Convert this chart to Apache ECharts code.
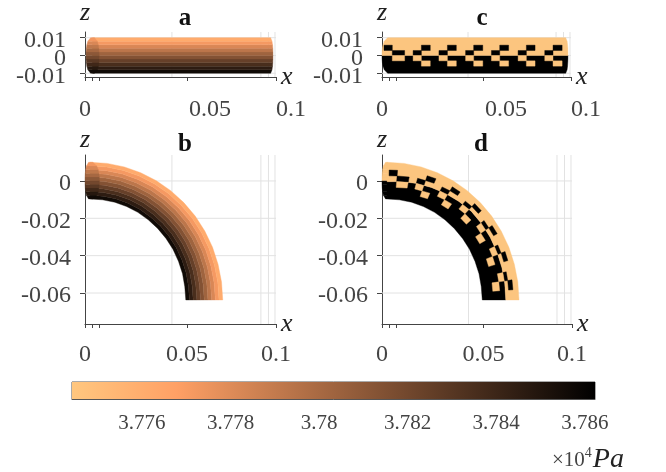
<!DOCTYPE html>
<html><head><meta charset="utf-8">
<style>html,body{margin:0;padding:0;background:#fff}#c{width:666px;height:472px;filter:blur(0.6px)}</style>
<script src="https://cdn.jsdelivr.net/npm/echarts@6/dist/echarts.min.js"></script>
</head><body><div id="c"></div>
<script>
// ---- tick values and labels
const xTicks = [0, 0.0035, 0.007, 0.05, 0.0936];
const xLabelValues = [0, 0.05, 0.0936];
const xLabelTexts = ['0', '0.05', '0.1'];
const xGridLines = [0.0426, 0.0862, 0.0899, 0.0931];
const zTicksStraight = [-0.01, 0, 0.01];
const zLabelsStraight = ['-0.01', '0', '0.01'];
const zTicksBend = [-0.06, -0.04, -0.02, 0];
const zLabelsBend = ['-0.06', '-0.04', '-0.02', '0'];
const cbTicks = [3.776, 3.778, 3.78, 3.782, 3.784, 3.786];
const cbLabels = ['3.776', '3.778', '3.78', '3.782', '3.784', '3.786'];
const cbRange = [3.77442, 3.78623];
const cbStops = [[0, '#ffc77f'], [0.2, '#ffa065'], [1, '#000000']];
// ---- pressure bands across the pipe, bottom/inner to top/outer
const zEdges = [-0.01, -0.008, -0.006, -0.004, -0.002, 0, 0.002, 0.004, 0.006, 0.008, 0.01];
const roundFrac = [0.3, 0.72, 0.87, 0.95, 0.99, 1, 0.99, 0.95, 0.87, 0.72, 0.3];
const bandColors = ['#100a06', '#2d1c12', '#492e1d', '#664029', '#835234', '#9f643f', '#bc764b', '#d98756', '#f59962', '#ffab6d'];
const capColors = ['#100a06', '#26180f', '#402819', '#593824', '#73482e', '#8c5838', '#a66842', '#bf784c', '#d98756', '#f29760'];
const lightColor = '#fcc57f', darkColor = '#000000';
// ---- bend outline
const outerX = [0.0025, 0.0109, 0.0193, 0.0273, 0.0350, 0.0420, 0.0484, 0.0540, 0.0587, 0.0625, 0.0652, 0.0669, 0.0675];
const outerZ = [0.0100, 0.0094, 0.0075, 0.0044, 0.0001, -0.0052, -0.0116, -0.0188, -0.0268, -0.0355, -0.0446, -0.0541, -0.0637];
const innerX = [0.0025, 0.0086, 0.0146, 0.0204, 0.0259, 0.0310, 0.0356, 0.0397, 0.0431, 0.0458, 0.0478, 0.0489, 0.0494];
const innerZ = [-0.0096, -0.0101, -0.0114, -0.0137, -0.0168, -0.0208, -0.0254, -0.0308, -0.0366, -0.0430, -0.0497, -0.0566, -0.0637];
// ---- checker cells
const cellXEdges = [0.001, 0.0051, 0.0112, 0.0154, 0.0195, 0.0239, 0.0282, 0.0324, 0.0368, 0.0414, 0.0454, 0.0499, 0.0542, 0.0583, 0.0627, 0.0674, 0.0715, 0.0758, 0.0806, 0.0847, 0.0892, 0.0938];
const cellRowZ = [0.0058, 0.0028, 0, -0.003, -0.006];
const cellRowFracStart = [0.79, 0.63, 0.47, 0.31, 0.15];
const cellRowFracMid = [0.88, 0.77, 0.66, 0.50, 0.33];
const cellRowFracEnd = [0.85, 0.73, 0.64, 0.49, 0.30];
const cellRows = [
  'k...k..k..k..k..k..k.',
  '.k.k..k..k..k..k..k..',
  '.l.l..l..l..l..l..l..',
  '....l..l..l..l..l..l.'
];
// ---- layout
const serif = 'Liberation Serif';
const labelGrey = '#444', axisGrey = '#444', gridGrey = '#e2e2e2';
const panels = [
  {name:'a', left:85, right:276, top:29, bottom:77, zMin:-0.0121, zMax:0.0132, shift:[0, 46, 30]},
  {name:'b', left:85, right:276, top:155, bottom:324, zMin:-0.0766, zMax:0.0139, shift:[0, 0, 0]},
  {name:'c', left:382, right:571, top:29, bottom:77, zMin:-0.0121, zMax:0.0132, shift:[0, 46, 30]},
  {name:'d', left:382, right:572, top:155, bottom:324, zMin:-0.0766, zMax:0.0139, shift:[0, 0, 0]}
];
const tailEnd = 0.0905, tailRound = 0.0016;

function arcPt(pos, f) {
  const i = Math.min(Math.floor(pos), 11), t = pos - i;
  const ox = outerX[i] + (outerX[i+1]-outerX[i])*t, oz = outerZ[i] + (outerZ[i+1]-outerZ[i])*t;
  const ix = innerX[i] + (innerX[i+1]-innerX[i])*t, iz = innerZ[i] + (innerZ[i+1]-innerZ[i])*t;
  return [ix + (ox-ix)*f, iz + (oz-iz)*f];
}
function straightBand(lo, hi, color, cx, rx) {
  const p = [];
  p.push([cx - rx*roundFrac[lo], zEdges[lo]], [tailEnd + tailRound*roundFrac[lo], zEdges[lo]]);
  for (let i = lo + 1; i <= hi; i++) p.push([tailEnd + tailRound*roundFrac[i], zEdges[i]]);
  for (let i = hi; i >= lo + 1; i--) p.push([cx - rx*roundFrac[i], zEdges[i]]);
  return {pts:p, color};
}
function capBand(i, color, cx, rxL, rxR, zc, zs) {
  const z0 = zc + zEdges[i]*zs, z1 = zc + zEdges[i+1]*zs;
  return {pts:[[cx-rxL*roundFrac[i],z0],[cx+rxR*roundFrac[i],z0],[cx+rxR*roundFrac[i+1],z1],[cx-rxL*roundFrac[i+1],z1]], color};
}
function arcBand(f0, f1, color) {
  const a = [], b = [];
  for (let i = 0; i <= 12; i++) { a.push(arcPt(i, f0(i))); b.push(arcPt(i, f1(i))); }
  return {pts:a.concat(b.reverse()), color};
}
function polysFor(name) {
  const out = [];
  if (name === 'a') {
    bandColors.forEach((c,i)=>out.push(straightBand(i,i+1,c,0.0037,0)));
    capColors.forEach((c,i)=>out.push(capBand(i,c,0.0037,0.0032,0.0032,0,1)));
  } else if (name === 'b') {
    const n = bandColors.length;
    bandColors.forEach((c,i)=>out.push(arcBand(()=>i/n,()=>(i+1)/n,c)));
    capColors.forEach((c,i)=>out.push(capBand(i,c,0.0025,0.0025,0.0045,0.0002,0.98)));
  } else if (name === 'c') {
    out.push(straightBand(0,5,darkColor,0.004,0.004));
    out.push(straightBand(5,10,lightColor,0.004,0.004));
    cellRows.forEach((row,r)=>[...row].forEach((ch,k)=>{
      if (ch==='.') return;
      const x0=cellXEdges[k],x1=cellXEdges[k+1],z0=cellRowZ[r],z1=cellRowZ[r+1];
      out.push({pts:[[x0,z0],[x1,z0],[x1,z1],[x0,z1]],color:ch==='k'?darkColor:lightColor});
    }));
  } else {
    const rowF = (r,pos)=>pos<=6
      ? cellRowFracStart[r]+(cellRowFracMid[r]-cellRowFracStart[r])*pos/6
      : cellRowFracMid[r]+(cellRowFracEnd[r]-cellRowFracMid[r])*(pos-6)/6;
    capColors.forEach((c,i)=>out.push(capBand(i,i<5?darkColor:lightColor,0.0025,0.0025,0.0005,0.0002,0.98)));
    out.push(arcBand(()=>0,i=>rowF(2,i),darkColor));
    out.push(arcBand(i=>rowF(2,i),()=>1,lightColor));
    cellRows.forEach((row,r)=>[...row].forEach((ch,k)=>{
      if (ch==='.') return;
      const p0=cellXEdges[k]/0.0938*12,p1=cellXEdges[k+1]/0.0938*12;
      const pts=[arcPt(p0,rowF(r,p0)),arcPt(p1,rowF(r,p1)),arcPt(p1,rowF(r+1,p1)),arcPt(p0,rowF(r+1,p0))];
      out.push({pts,color:ch==='k'?darkColor:lightColor});
    }));
  }
  return out;
}
const option = {animation:false, backgroundColor:'#fff', grid:[], xAxis:[], yAxis:[], series:[],
  title:[
    {text:'a',left:180,top:1},{text:'c',left:477,top:1},{text:'b',left:180,top:127},{text:'d',left:476,top:127}
  ].map(t=>Object.assign(t,{textAlign:'center',textStyle:{fontFamily:serif,fontWeight:'bold',fontSize:25,color:'#111'}}))
};
option.title.push({left:547,top:441,text:'{t|×10}{s|4}{p|Pa}',textStyle:{fontWeight:'normal',rich:{
  t:{fontFamily:serif,fontWeight:'normal',fontSize:21,color:labelGrey},
  s:{fontFamily:serif,fontWeight:'normal',fontSize:14,color:labelGrey,verticalAlign:'top',padding:[0,1,9,0]},
  p:{fontFamily:serif,fontWeight:'normal',fontStyle:'italic',fontSize:28,color:'#222'}}}});
panels.forEach((P,idx)=>{
  const bend = P.name==='b'||P.name==='d';
  option.grid.push({left:P.left,top:P.top,width:P.right-P.left,height:P.bottom-P.top});
  const rich={}; P.shift.forEach((s,i)=>rich['r'+i]={fontFamily:serif,fontSize:24,color:labelGrey,padding:[0,0,0,s]});
  option.xAxis.push({type:'value',gridIndex:idx,min:0,max:0.0936,
    name:'x',nameLocation:'end',nameGap:5,nameTextStyle:{fontFamily:serif,fontStyle:'italic',fontSize:26,color:'#222',padding:[10,0,0,0]},
    axisLine:{onZero:false,show:true,lineStyle:{color:axisGrey,width:1}},
    axisTick:{show:true,length:4,customValues:xTicks,lineStyle:{color:axisGrey}},
    splitLine:{show:false},
    axisLabel:{customValues:xLabelValues,margin:bend?19:21,hideOverlap:false,showMinLabel:true,showMaxLabel:true,
      formatter:v=>{const i=xLabelValues.indexOf(v);return '{r'+i+'|'+xLabelTexts[i]+'}';},rich}});
  const zt=bend?zTicksBend:zTicksStraight, zl=bend?zLabelsBend:zLabelsStraight;
  // blank end labels keep the closely spaced z labels from being dropped as overlaps
  option.yAxis.push({type:'value',gridIndex:idx,min:P.zMin,max:P.zMax,
    name:'z',nameLocation:'end',nameGap:bend?2:6,nameTextStyle:{fontFamily:serif,fontStyle:'italic',fontSize:26,color:'#222',align:'center'},
    axisLine:{onZero:false,show:true,lineStyle:{color:axisGrey,width:1}},
    axisTick:{show:true,length:5,customValues:zt,lineStyle:{color:axisGrey}},
    splitLine:{show:false},
    axisLabel:{customValues:[P.zMin].concat(zt,[P.zMax]),margin:bend?14:19,fontFamily:serif,fontSize:24,color:labelGrey,hideOverlap:false,
      verticalAlign:'top',lineHeight:6,
      formatter:v=>{const i=zt.indexOf(v);return i<0?'':zl[i];}}});
  // faint grid
  const lines=xGridLines.map(x=>[[x,P.zMin],[x,P.zMax]]).concat(zt.map(z=>[[0,z],[0.0936,z]]));
  option.series.push({type:'custom',xAxisIndex:idx,yAxisIndex:idx,z:1,silent:true,clip:false,
    data:lines.map((l,i)=>[l[0][0],l[0][1],i]),
    renderItem:(p,api)=>{const l=lines[api.value(2)],a=api.coord(l[0]),b=api.coord(l[1]);
      return {type:'line',shape:{x1:a[0],y1:a[1],x2:b[0],y2:b[1]},style:{stroke:gridGrey,lineWidth:1}};}});
  const polys=polysFor(P.name);
  option.series.push({type:'custom',xAxisIndex:idx,yAxisIndex:idx,z:2,silent:true,clip:false,
    data:polys.map((q,i)=>[q.pts[0][0],q.pts[0][1],i]),
    renderItem:(p,api)=>{const q=polys[api.value(2)];
      return {type:'polygon',shape:{points:q.pts.map(v=>api.coord(v))},style:{fill:q.color,stroke:q.color,lineWidth:0.4}};}});
});
// colour bar
const cbI=panels.length;
option.grid.push({left:72,top:382,width:523,height:17,show:true,borderColor:'#555',borderWidth:1,backgroundColor:'transparent'});
option.xAxis.push({type:'value',gridIndex:cbI,min:cbRange[0],max:cbRange[1],
  axisLine:{show:true,lineStyle:{color:'#555'}},
  axisTick:{inside:true,length:4,customValues:cbTicks,lineStyle:{color:'#333'}},splitLine:{show:false},
  axisLabel:{customValues:cbTicks,margin:14,fontFamily:serif,fontSize:21,color:labelGrey,hideOverlap:false,
    formatter:v=>cbLabels[cbTicks.indexOf(v)]}});
option.yAxis.push({type:'value',gridIndex:cbI,min:0,max:1,show:false});
option.series.push({type:'custom',xAxisIndex:cbI,yAxisIndex:cbI,z:1,silent:true,data:[[cbRange[0],0,cbRange[1],1]],
  renderItem:(p,api)=>{const a=api.coord([api.value(0),api.value(3)]),b=api.coord([api.value(2),api.value(1)]);
    return {type:'rect',shape:{x:a[0],y:a[1],width:b[0]-a[0],height:b[1]-a[1]},
      style:{fill:{type:'linear',x:0,y:0,x2:1,y2:0,colorStops:cbStops.map(s=>({offset:s[0],color:s[1]}))}}};}});
echarts.init(document.getElementById('c')).setOption(option);
</script></body></html>
